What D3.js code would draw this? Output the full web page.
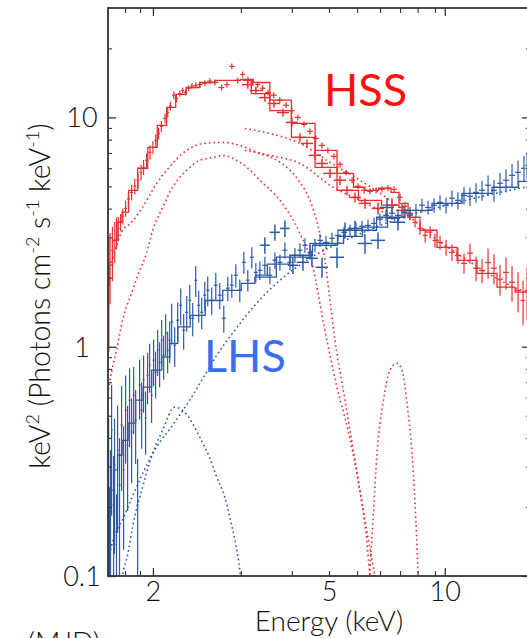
<!DOCTYPE html>
<html>
<head>
<meta charset="utf-8">
<script src="https://cdn.jsdelivr.net/npm/d3@7"></script>
<style>
  body { margin: 0; background: #fff; }
  svg { display: block; }
</style>
</head>
<body>
<script>
// ---- axis ticks ----
var xDomain = [1.583, 5, 16.66];
var xMajor = [2, 10];
var xMinor = [1.73, 1.87, 3.16, 4.12, 5, 5.92, 6.79, 7.65, 8.5, 9.43];
var xLabels = [2, 5, 10];
var yDomain = [0.1, 30];
var yMajor = [0.1, 1, 10];
var yMinor = [0.2, 0.3, 0.4, 0.5, 0.6, 0.7, 0.8, 0.9, 2, 3, 4, 5, 6, 7, 8, 9, 20];

// ---- HSS spectra: [E, flux, err] (and [.., dE] for the coarse set) ----
var hssA = [
  [1.59,1.95,1.0],[1.60,2.33,0.8],[1.62,2.63,0.7],[1.64,2.91,0.6],[1.655,3.16,0.5],[1.67,3.28,0.4],
  [1.69,3.49,0.3],[1.71,3.71,0.3],[1.735,4.01,0.32],[1.76,4.40,0.35],[1.79,4.71,0.37],[1.82,5.01,0.4],
  [1.85,5.32,0.42],[1.88,5.76,0.45],[1.905,6.06,0.46],[1.935,6.50,0.48],[1.97,7.04,0.5],[2.0,7.40,0.5],
  [2.03,7.94,0.5],[2.06,8.51,0.5],[2.09,9.14,0.5],[2.13,9.90,0.5],[2.16,10.5,0.5],[2.19,11.2,0.5],
  [2.23,12.5,0.5],[2.26,12.1,0.48],[2.30,12.7,0.4],[2.335,13.1,0.4],[2.37,12.85,0.4],[2.41,13.4,0.4],
  [2.45,13.7,0.4],[2.50,13.8,0.4],[2.55,13.9,0.42],[2.62,14.1,0.42],[2.69,14.4,0.43],[2.76,14.2,0.43],
  [2.86,13.5,0.4],[2.94,13.9,0.42],[3.015,16.7,0.5],[3.11,14.5,0.44],[3.19,15.4,0.46],[3.28,14.6,0.44],
  [3.36,14.2,0.43],[3.45,13.9,0.42],[3.54,13.4,0.4],[3.64,12.85,0.39],[3.75,12.5,0.37],[3.87,11.9,0.36],
  [4.0,11.3,0.34],[4.12,10.7,0.32],[4.25,10.0,0.3],[4.39,9.32,0.28],[4.53,8.69,0.26],[4.67,8.10,0.24],
  [4.82,7.55,0.23],[4.97,7.18,0.22],[5.15,6.76,0.2],[5.34,6.24,0.19],[5.54,5.76,0.17],[5.74,5.32,0.16],
  [5.95,5.01,0.15],[6.17,4.81,0.15],[6.39,4.76,0.15],[6.63,4.81,0.15],[6.87,4.86,0.15],[7.12,4.91,0.15],
  [7.38,4.86,0.15],[7.65,4.48,0.18],[7.88,4.10,0.17],[8.12,3.74,0.19],[8.37,3.49,0.18],[8.62,3.28,0.2],
  [8.89,3.06,0.22],[9.16,3.16,0.19],[9.43,2.91,0.2],[9.72,2.85,0.2],[10.08,2.71,0.22],[10.44,2.58,0.21],
  [10.82,2.50,0.2],[11.22,2.31,0.23],[11.63,2.56,0.26],[12.06,2.20,0.27],[12.5,2.15,0.26],[12.96,2.33,0.35],
  [13.43,2.20,0.33],[13.92,1.97,0.3],[14.43,2.11,0.34],[14.96,1.91,0.34],[15.51,1.76,0.35],[15.98,1.59,0.35],
  [16.37,1.76,0.45]
];
var hssB = [
  [3.277,13.9,0.55,0.10],[3.417,13.1,0.5,0.11],[3.581,12.2,0.5,0.11],[3.753,11.5,0.45,0.12],
  [3.934,10.5,0.42,0.125],[4.123,9.51,0.38,0.13],[4.298,8.18,0.34,0.14],[4.458,7.70,0.32,0.14],
  [4.648,6.83,0.3,0.15],[4.821,6.30,0.28,0.15],[5.03,5.70,0.26,0.18],[5.34,5.32,0.25,0.2],
  [5.569,4.81,0.23,0.2],[5.842,4.48,0.22,0.21],[6.202,4.22,0.22,0.23],[6.705,4.01,0.25,0.25],
  [7.291,4.14,0.3,0.27],[7.741,3.93,0.3,0.28]
];
var hssModelA = [
  [1.583,1.85],[1.604,2.27],[1.638,2.91],[1.681,3.49],[1.726,3.86],[1.80,4.81],[1.895,6.00],[2.0,7.40],
  [2.093,9.23],[2.205,11.05],[2.30,12.6],[2.46,13.5],[2.65,14.2],[2.88,14.5],[3.06,14.5],[3.26,14.65],
  [3.49,14.2],[3.87,11.9],[4.37,9.41],[4.95,7.18],[5.57,5.70],[6.02,4.96],[6.39,4.81],[7.08,4.91],
  [7.42,4.71],[7.79,4.22],[8.27,3.67],[8.99,3.22],[10.14,2.71],[11.42,2.38],[12.88,2.09],[14.52,1.82],
  [15.98,1.73],[16.66,1.73]
];
var hssModelB = [
  [3.19,14.5],[3.49,12.7],[3.87,10.7],[4.37,8.18],[4.95,6.06],[5.57,4.81],[6.39,4.35],[7.34,4.14],[7.88,4.05]
];
var hssDisk1 = [
  [1.613,2.33],[1.699,3.16],[1.79,3.49],[1.895,4.05],[2.039,5.16],[2.148,5.88],[2.384,7.18],[2.60,7.70],
  [2.877,7.78],[3.143,7.55],[3.435,7.04],[3.813,6.50],[4.08,5.88],[4.298,5.21],[4.529,4.35],[4.72,3.38],
  [4.897,2.38],[5.03,1.59],[5.18,1.07],[5.503,0.585],[5.842,0.32],[6.202,0.175],[6.585,0.1],[6.75,0.08]
];
var hssDisk2 = [
  [1.583,0.62],[1.596,0.693],[1.655,0.966],[1.708,1.305],[1.799,1.76],[1.866,2.15],[1.935,2.56],[1.997,3.22],
  [2.104,4.05],[2.216,4.96],[2.384,5.88],[2.552,6.50],[2.731,6.69],[2.877,6.83],[3.031,6.63],[3.26,6.06],
  [3.489,5.32],[3.873,4.35],[4.298,3.12],[4.60,2.22],[4.846,1.305],[5.245,0.666],[5.60,0.433],[5.948,0.262],
  [6.24,0.154],[6.391,0.1],[6.5,0.08]
];
var hssPow1 = [
  [3.227,8.95],[3.676,8.51],[4.298,7.70],[5.03,6.37],[6.02,5.32],[7.204,4.35],[7.881,3.86],[8.992,3.16],
  [10.96,2.50],[13.92,1.95],[16.66,1.69]
];
var hssPow2 = [
  [3.227,7.18],[3.676,6.83],[4.298,6.30],[5.121,4.96],[6.02,4.35],[6.785,3.93],[7.649,3.49]
];
var hssLine = [
  [6.33,0.08],[6.391,0.106],[6.507,0.175],[6.665,0.343],[6.908,0.567],[7.204,0.79],[7.513,0.847],
  [7.741,0.79],[7.976,0.567],[8.218,0.343],[8.367,0.208],[8.519,0.103],[8.56,0.08]
];

// ---- LHS spectra ----
var lhsA = [
  [1.588,0.29,0.2],[1.596,0.144,0.1],[1.604,0.214,0.14],[1.613,0.433,0.25],[1.63,0.204,0.13],[1.638,0.305,0.18],
  [1.655,0.137,0.09],[1.664,0.354,0.2],[1.681,0.249,0.15],[1.699,0.455,0.22],[1.717,0.29,0.16],[1.735,0.529,0.22],
  [1.753,0.372,0.18],[1.771,0.585,0.22],[1.79,0.424,0.17],[1.809,0.615,0.2],[1.828,0.478,0.17],[1.847,0.204,0.12],
  [1.866,0.68,0.2],[1.886,0.529,0.17],[1.905,0.715,0.2],[1.925,0.488,0.15],[1.945,0.751,0.19],[1.966,0.83,0.2],
  [1.986,0.615,0.15],[2.007,0.873,0.2],[2.028,0.774,0.18],[2.05,0.966,0.22],[2.071,0.856,0.19],[2.093,1.067,0.24],
  [2.115,0.918,0.2],[2.137,1.145,0.24],[2.159,0.966,0.2],[2.182,1.067,0.22],[2.205,1.28,0.26],[2.24,1.015,0.2],
  [2.275,1.305,0.25],[2.311,1.516,0.28],[2.347,1.18,0.21],[2.384,1.413,0.25],[2.422,1.594,0.27],[2.46,1.331,0.22],
  [2.499,1.949,0.3],[2.538,1.516,0.24],[2.578,1.413,0.22],[2.619,1.677,0.25],[2.66,1.763,0.26],[2.716,1.594,0.22],
  [2.774,1.854,0.25],[2.832,1.677,0.22],[2.892,1.331,0.18],[2.953,1.80,0.22],[3.015,1.854,0.22],[3.079,2.05,0.24],
  [3.143,1.763,0.2],[3.21,2.334,0.26],[3.277,1.95,0.21],[3.346,2.455,0.26],[3.417,2.11,0.21],[3.489,2.154,0.2],
  [3.581,2.265,0.2],[3.676,2.05,0.18],[3.773,2.382,0.2],[3.873,2.334,0.19],[3.975,2.634,0.21],[4.08,2.334,0.18],
  [4.188,2.505,0.19],[4.298,2.634,0.19],[4.412,2.77,0.2],[4.529,2.58,0.18],[4.648,2.77,0.19],[4.771,2.91,0.19],
  [4.923,2.85,0.18],[5.09,2.97,0.17],[5.277,3.06,0.17],[5.47,3.155,0.18],[5.67,3.22,0.18],[5.877,3.28,0.19],
  [6.092,3.35,0.19],[6.315,3.38,0.2],[6.546,3.45,0.2],[6.785,3.60,0.21],[7.034,3.74,0.22],[7.291,3.82,0.23],
  [7.558,3.74,0.23],[7.834,3.86,0.24],[8.12,3.82,0.25],[8.417,3.93,0.26],[8.725,4.14,0.28],[9.046,4.05,0.28],
  [9.377,4.14,0.3],[9.72,4.26,0.32],[10.08,4.14,0.33],[10.44,4.44,0.36],[10.82,4.35,0.37],[11.22,4.57,0.4],
  [11.63,4.53,0.42],[12.06,4.71,0.45],[12.5,4.81,0.48],[12.96,5.06,0.52],[13.43,4.81,0.52],[13.92,5.16,0.58],
  [14.43,5.32,0.62],[14.96,5.59,0.68],[15.51,5.76,0.72],[16.07,6.0,0.78],[16.37,6.18,0.82]
];
var lhsB = [
  [3.581,2.77,0.23,0.093],[3.773,3.155,0.26,0.1],[3.975,3.28,0.27,0.1],[4.144,2.265,0.19,0.11],
  [4.366,2.334,0.19,0.14],[4.575,2.43,0.2,0.145],[4.821,2.22,0.22,0.153],[5.245,2.455,0.25,0.225],
  [5.503,3.22,0.26,0.24],[5.842,3.28,0.26,0.25],[6.202,2.82,0.28,0.27],[6.705,2.91,0.24,0.29],
  [7.076,4.05,0.4,0.3],[7.558,3.49,0.28,0.33]
];
var lhsModelA = [
  [1.583,0.16],[1.588,0.175],[1.613,0.237],[1.647,0.29],[1.681,0.337],[1.726,0.39],[1.79,0.464],[1.866,0.585],
  [1.935,0.666],[2.04,0.79],[2.15,0.90],[2.22,1.035],[2.335,1.22],[2.525,1.37],[2.73,1.59],[3.03,1.76],
  [3.31,1.89],[3.49,2.01],[4.14,2.46],[4.95,2.82],[6.02,3.22],[7.34,3.67],[8.47,3.93],[10.14,4.22],
  [12.13,4.66],[14.52,4.96],[16.66,5.26]
];
var lhsModelB = [
  [3.399,2.05],[3.873,2.29],[4.298,2.505],[4.897,2.77],[5.67,3.03],[6.585,3.32],[7.649,3.63]
];
var lhsDisk = [
  [1.69,0.085],[1.708,0.1],[1.753,0.1235],[1.799,0.1635],[1.895,0.244],[1.997,0.343],[2.104,0.433],[2.24,0.545],
  [2.36,0.518],[2.552,0.403],[2.688,0.327],[2.788,0.27],[2.907,0.221],[2.984,0.181],[3.079,0.1365],[3.143,0.106],[3.17,0.09]
];
var lhsPow = [
  [1.583,0.113],[1.596,0.1235],[1.726,0.184],[1.866,0.262],[2.018,0.354],[2.216,0.455],[2.422,0.585],[2.619,0.751],
  [2.788,0.918],[3.063,1.18],[3.399,1.516],[3.873,1.949],[4.529,2.431],[5.67,2.971],[7.649,3.631],
  [10.32,4.18],[13.92,4.712],[16.66,5.008]
];

// ---- layout ----
var W = 527, H = 638;
var plot = { left: 108, right: 530, top: 8, bottom: 576 };
var red = "#e8302f";
var blue = "#2b5aa8";
var fontFam = "Lato, 'Open Sans', sans-serif";

var svg = d3.select("body").append("svg")
    .attr("width", W)
    .attr("height", H);

var x = d3.scaleLog()
    .domain(xDomain)
    .range([plot.left, 329, plot.right]);
var y = d3.scaleLog()
    .domain(yDomain)
    .range([plot.bottom, plot.top]);

svg.append("clipPath").attr("id", "clip")
  .append("rect")
    .attr("x", plot.left).attr("y", plot.top)
    .attr("width", plot.right - plot.left)
    .attr("height", plot.bottom - plot.top);

var gPlot = svg.append("g").attr("clip-path", "url(#clip)");

var smoothGen = d3.line()
    .x(function(d) { return x(d[0]); })
    .y(function(d) { return y(d[1]); })
    .curve(d3.curveMonotoneX);
var stepGen = d3.line()
    .x(function(d) { return x(d[0]); })
    .y(function(d) { return y(d[1]); })
    .curve(d3.curveStep);

function dotted(data, color) {
    gPlot.append("path")
        .attr("d", smoothGen(data))
        .attr("fill", "none")
        .attr("stroke", color)
        .attr("stroke-width", 1.6)
        .attr("stroke-dasharray", "1.6 3");
}

function model(data, color) {
    gPlot.append("path")
        .attr("d", stepGen(data))
        .attr("fill", "none")
        .attr("stroke", color)
        .attr("stroke-width", 1.3);
}

// half bin width from neighbours (geometric mid points)
function binEdges(data) {
    return data.map(function(d, i) {
        var prev = i > 0 ? data[i - 1][0] : d[0] * d[0] / data[i + 1][0];
        var next = i < data.length - 1 ? data[i + 1][0] : d[0] * d[0] / data[i - 1][0];
        return [Math.sqrt(prev * d[0]), Math.sqrt(next * d[0])];
    });
}

function crosses(data, color, coarse) {
    var edges = coarse ? data.map(function(d) { return [d[0] - d[3], d[0] + d[3]]; }) : binEdges(data);
    var g = gPlot.append("g")
        .attr("stroke", color)
        .attr("stroke-width", coarse ? 1.5 : 1.2);
    g.selectAll(".ev").data(data).join("line")
        .attr("x1", function(d) { return x(d[0]); })
        .attr("x2", function(d) { return x(d[0]); })
        .attr("y1", function(d) { return y(Math.max(d[1] - d[2], 0.05)); })
        .attr("y2", function(d) { return y(d[1] + d[2]); });
    g.selectAll(".eh").data(data).join("line")
        .attr("x1", function(d, i) { return x(edges[i][0]); })
        .attr("x2", function(d, i) { return x(edges[i][1]); })
        .attr("y1", function(d) { return y(d[1]); })
        .attr("y2", function(d) { return y(d[1]); });
}

// HSS (red)
dotted(hssDisk1, red);
dotted(hssDisk2, red);
dotted(hssPow1, red);
dotted(hssPow2, red);
dotted(hssLine, red);
crosses(hssA, red, false);
crosses(hssB, red, true);
model(hssModelA, red);
model(hssModelB, red);

// LHS (blue)
dotted(lhsDisk, blue);
dotted(lhsPow, blue);
crosses(lhsA, blue, false);
crosses(lhsB, blue, true);
model(lhsModelA, blue);
model(lhsModelB, blue);

// ---- frame and ticks ----
var axisColor = "#333";
function styleTicks(g, w) {
    g.select(".domain").remove();
    g.selectAll(".tick line").attr("stroke", axisColor).attr("stroke-width", w);
    g.selectAll(".tick text").remove();
}

svg.append("g").attr("transform", "translate(0," + plot.bottom + ")")
    .call(d3.axisBottom(x).tickValues(xMajor).tickSizeInner(-8).tickSizeOuter(0))
    .call(styleTicks, 1.3);
svg.append("g").attr("transform", "translate(0," + plot.bottom + ")")
    .call(d3.axisBottom(x).tickValues(xMinor).tickSizeInner(-5).tickSizeOuter(0))
    .call(styleTicks, 1.1);
svg.append("g").attr("transform", "translate(0," + plot.top + ")")
    .call(d3.axisTop(x).tickValues(xMajor).tickSizeInner(-8).tickSizeOuter(0))
    .call(styleTicks, 1.3);
svg.append("g").attr("transform", "translate(0," + plot.top + ")")
    .call(d3.axisTop(x).tickValues(xMinor).tickSizeInner(-5).tickSizeOuter(0))
    .call(styleTicks, 1.1);
svg.append("g").attr("transform", "translate(" + plot.left + ",0)")
    .call(d3.axisLeft(y).tickValues(yMajor).tickSizeInner(-8).tickSizeOuter(0))
    .call(styleTicks, 1.3);
svg.append("g").attr("transform", "translate(" + plot.left + ",0)")
    .call(d3.axisLeft(y).tickValues(yMinor).tickSizeInner(-4).tickSizeOuter(0))
    .call(styleTicks, 1.1);
svg.append("g").attr("transform", "translate(" + plot.right + ",0)")
    .call(d3.axisRight(y).tickValues(yMajor).tickSizeInner(-8).tickSizeOuter(0))
    .call(styleTicks, 1.3);
svg.append("g").attr("transform", "translate(" + plot.right + ",0)")
    .call(d3.axisRight(y).tickValues(yMinor).tickSizeInner(-4).tickSizeOuter(0))
    .call(styleTicks, 1.1);

svg.append("rect")
    .attr("x", plot.left).attr("y", plot.top)
    .attr("width", plot.right - plot.left)
    .attr("height", plot.bottom - plot.top)
    .attr("fill", "none")
    .attr("stroke", axisColor)
    .attr("stroke-width", 1.8);

// tick labels
var xl = svg.append("g").attr("transform", "translate(0," + plot.bottom + ")")
    .call(d3.axisBottom(x).tickValues(xLabels).tickSize(0).tickPadding(6).tickFormat(d3.format("d")));
xl.select(".domain").remove();
xl.selectAll("text").attr("font-family", fontFam).attr("font-size", 27).attr("font-weight", 300).attr("fill", "#111");

var yl = svg.append("g").attr("transform", "translate(" + plot.left + ",0)")
    .call(d3.axisLeft(y).tickValues(yMajor).tickSize(0).tickFormat(function(d) { return d3.format("~g")(d); }));
yl.select(".domain").remove();
yl.selectAll("text")
    .attr("font-family", fontFam).attr("font-size", 27).attr("font-weight", 300).attr("fill", "#111")
    .attr("text-anchor", "middle").attr("x", -26).attr("dy", "0.35em");

// axis titles
svg.append("text")
    .attr("x", 329).attr("y", 631)
    .attr("text-anchor", "middle")
    .attr("font-family", fontFam).attr("font-size", 28).attr("font-weight", 300).attr("fill", "#111")
    .text("Energy (keV)");

var yt = svg.append("text")
    .attr("transform", "translate(50,296) rotate(-90)")
    .attr("text-anchor", "middle")
    .attr("font-family", fontFam).attr("font-size", 28.5).attr("font-weight", 300).attr("fill", "#111");
yt.append("tspan").text("keV");
yt.append("tspan").attr("font-size", 18).attr("dy", -11).text("2");
yt.append("tspan").attr("dy", 11).text(" (Photons cm");
yt.append("tspan").attr("font-size", 18).attr("dy", -11).text("-2");
yt.append("tspan").attr("dy", 11).text(" s");
yt.append("tspan").attr("font-size", 18).attr("dy", -11).text("-1");
yt.append("tspan").attr("dy", 11).text(" keV");
yt.append("tspan").attr("font-size", 18).attr("dy", -11).text("-1");
yt.append("tspan").attr("dy", 11).text(")");

// state labels
svg.append("text")
    .attr("x", 324).attr("y", 106)
    .attr("font-family", fontFam).attr("font-size", 45).attr("fill", "#ff1010")
    .text("HSS");
svg.append("text")
    .attr("x", 204).attr("y", 372)
    .attr("font-family", fontFam).attr("font-size", 45).attr("fill", "#3b6df0")
    .text("LHS");

// neighbouring panel's axis title, mostly off the page
svg.append("text")
    .attr("x", 100).attr("y", 652)
    .attr("text-anchor", "end")
    .attr("font-family", fontFam).attr("font-size", 28).attr("font-weight", 300).attr("fill", "#111")
    .text("Time (MJD)");
</script>
</body>
</html>
